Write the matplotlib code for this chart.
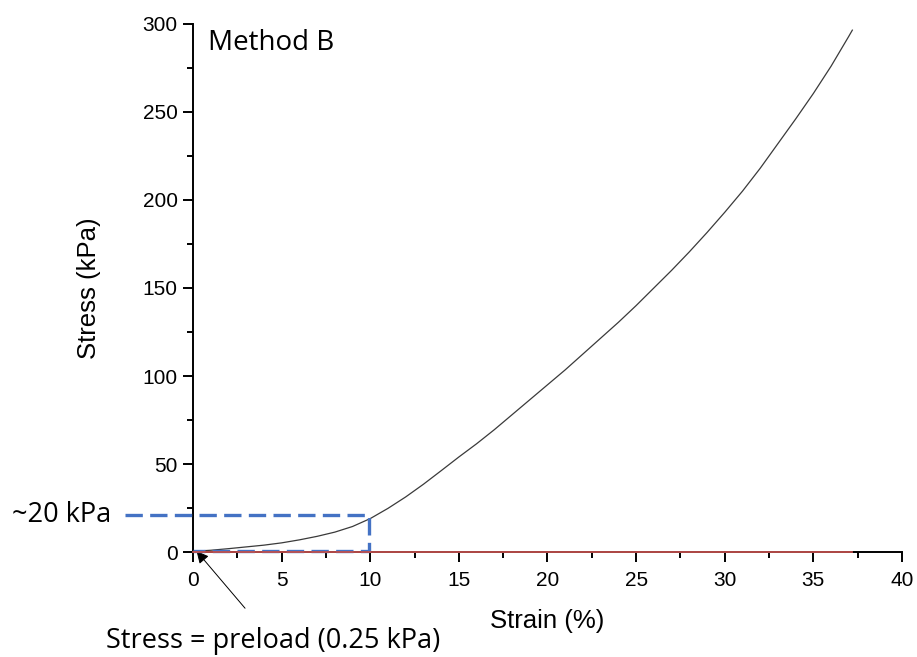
import numpy as np
import matplotlib.pyplot as plt
from matplotlib.ticker import MultipleLocator

# ==============================
# Datos (Method B)
# ==============================
strain = [0, 1, 2, 3, 4, 5, 6, 7, 8, 9, 10, 11, 12, 13, 14, 15, 16, 17, 18,
          19, 20, 21, 22, 23, 24, 25, 26, 27, 28, 29, 30, 31, 32, 33, 34, 35,
          36, 37, 37.2]
stress = [0.4, 1.0, 1.9, 2.9, 3.9, 5.2, 6.9, 8.9, 11.3, 14.5, 19.0, 24.8, 31.3,
          38.5, 46.2, 54.0, 61.5, 69.5, 78.0, 86.5, 95.0, 103.5, 112.5, 121.5,
          130.5, 140.0, 150.0, 160.0, 170.5, 181.5, 193.0, 205.0, 218.0, 232.0,
          246.0, 260.5, 276.0, 293.0, 296.5]

# línea de referencia (roja) en stress = 0
ref_x = [0, 37.2]
ref_y = [0, 0]

# rectángulo discontinuo: preload -> ~20 kPa a 10 %
box_x = [-3.85, 9.95, 9.95, 0]
box_y = [21, 21, 0.55, 0.55]

# ==============================
# Figura
# ==============================
fig = plt.figure(figsize=(9.17, 6.57), dpi=100)
ax = fig.add_axes([0.2105, 0.1598, 0.7731, 0.8037])

ax.plot(strain, stress, color="#3a3a3a", linewidth=0.9, zorder=3)
ax.plot(ref_x, ref_y, color="#C0504D", linewidth=1.3, zorder=5, clip_on=False)
ax.plot(box_x, box_y, color="#4472C4", linewidth=2.4, linestyle=(0, (5.2, 2.2)),
        clip_on=False, zorder=4)

ax.set_xlim(0, 40)
ax.set_ylim(0, 300)
ax.xaxis.set_major_locator(MultipleLocator(5))
ax.xaxis.set_minor_locator(MultipleLocator(2.5))
ax.yaxis.set_major_locator(MultipleLocator(50))
ax.yaxis.set_minor_locator(MultipleLocator(25))

for s in ["top", "right"]:
    ax.spines[s].set_visible(False)
for s in ["left", "bottom"]:
    ax.spines[s].set_linewidth(1.4)

ax.tick_params(which="major", direction="out", length=7, width=1.4,
               labelsize=15, pad=4)
ax.tick_params(axis="x", which="major", pad=7)
ax.tick_params(which="minor", direction="out", length=4, width=1.4)
for lab in ax.get_xticklabels() + ax.get_yticklabels():
    lab.set_fontfamily("Liberation Sans")

ax.set_xlabel("Strain (%)", fontsize=18.5, family="Liberation Sans", labelpad=13)
ax.set_ylabel("Stress (kPa)", fontsize=18.5, family="Liberation Sans", labelpad=30)

ax.text(0.85, 289, "Method B", fontsize=20, family="Open Sans", va="center")
ax.text(-4.6, 21, "~20 kPa", fontsize=19.5, family="Open Sans", ha="right",
        va="center", clip_on=False)

ax.annotate("Stress = preload (0.25 kPa)", xy=(0.2, 0.5), xytext=(4.5, -50.5),
            textcoords="data", fontsize=19.5, family="Open Sans",
            ha="center", va="center", annotation_clip=False,
            arrowprops=dict(arrowstyle="-|>", color="black", lw=0.7,
                            mutation_scale=18, shrinkA=15, shrinkB=0))

fig.savefig("out.png", dpi=100)
